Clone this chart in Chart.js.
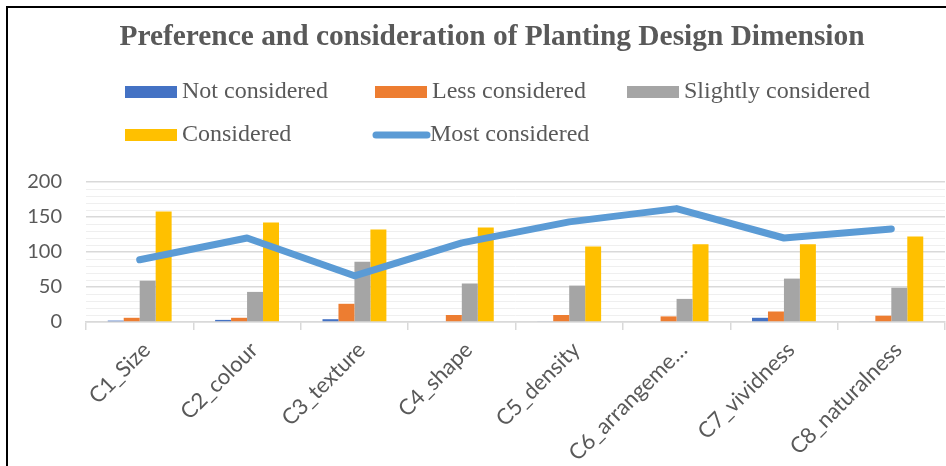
<!DOCTYPE html>
<html>
<head>
<meta charset="utf-8">
<script src="https://cdn.jsdelivr.net/npm/chart.js@4"></script>
<style>
  html, body { margin: 0; padding: 0; background: #fff; }
  #wrap { width: 946px; height: 466px; position: relative; }
</style>
</head>
<body>
<div id="wrap"><canvas id="chart" width="946" height="466"></canvas></div>
<script>
// data (n = 314 respondents per item)
const categories = ["C1_Size", "C2_colour", "C3_texture", "C4_shape", "C5_density", "C6_arrangeme\u2026", "C7_vividness", "C8_naturalness"];
const notConsidered = [2, 3, 4, 1, 1, 0, 6, 1];
const lessConsidered = [6, 6, 26, 10, 10, 8, 15, 9];
const slightlyConsidered = [59, 43, 86, 55, 52, 33, 62, 49];
const considered = [158, 142, 132, 135, 108, 111, 111, 122];
const mostConsidered = [89, 120, 66, 113, 143, 162, 120, 133];
const yTicks = [0, 50, 100, 150, 200];

const titleText = "Preference and consideration of Planting Design Dimension";
const textColor = "#595959";

// legend drawn in a grid like the office chart
const legendSlots = [
  { ds: 1, x: 125, y: 92 },
  { ds: 2, x: 375, y: 92 },
  { ds: 3, x: 627, y: 92 },
  { ds: 4, x: 125, y: 135 },
  { ds: 0, x: 373, y: 135 }
];

const decor = {
  id: "decor",
  afterDraw(chart) {
    const ctx = chart.ctx;
    ctx.save();
    // frame
    ctx.fillStyle = "#000";
    ctx.fillRect(6, 6, 940, 2);
    ctx.fillRect(6, 6, 2, 460);
    // title
    ctx.fillStyle = textColor;
    ctx.font = "bold 29.4px 'Liberation Serif'";
    ctx.textAlign = "center";
    ctx.textBaseline = "alphabetic";
    ctx.fillText(titleText, 492, 45);
    // legend
    ctx.font = "24px 'Liberation Serif'";
    ctx.textAlign = "left";
    ctx.textBaseline = "middle";
    legendSlots.forEach(s => {
      const d = chart.data.datasets[s.ds];
      if (d.type === "line") {
        ctx.strokeStyle = d.borderColor;
        ctx.lineWidth = 7;
        ctx.lineCap = "round";
        ctx.beginPath();
        ctx.moveTo(s.x + 3, s.y);
        ctx.lineTo(s.x + 54, s.y);
        ctx.stroke();
      } else {
        ctx.fillStyle = d.backgroundColor;
        ctx.fillRect(s.x, s.y - 6, 52, 12);
      }
      ctx.fillStyle = textColor;
      ctx.fillText(d.label, s.x + 57, s.y);
    });
    ctx.restore();
  }
};

const barOpts = { categoryPercentage: 0.595, barPercentage: 1.0, order: 1 };

new Chart(document.getElementById("chart"), {
  type: "bar",
  data: {
    labels: categories,
    datasets: [
      {
        type: "line",
        label: "Most considered",
        data: mostConsidered,
        borderColor: "#5b9bd5",
        backgroundColor: "#5b9bd5",
        borderWidth: 7,
        borderCapStyle: "round",
        borderJoinStyle: "round",
        pointRadius: 0,
        tension: 0,
        order: 0
      },
      Object.assign({ label: "Not considered", data: notConsidered, backgroundColor: "#4472c4" }, barOpts),
      Object.assign({ label: "Less considered", data: lessConsidered, backgroundColor: "#ed7d31" }, barOpts),
      Object.assign({ label: "Slightly considered", data: slightlyConsidered, backgroundColor: "#a5a5a5" }, barOpts),
      Object.assign({ label: "Considered", data: considered, backgroundColor: "#ffc000" }, barOpts)
    ]
  },
  options: {
    responsive: false,
    animation: false,
    layout: { padding: { top: 182, right: 1, left: 0, bottom: 0 } },
    plugins: {
      legend: { display: false },
      title: { display: false },
      tooltip: { enabled: false }
    },
    scales: {
      x: {
        grid: { drawOnChartArea: false, offset: true, tickLength: 8, color: "#d9d9d9", lineWidth: 1.5 },
        border: { color: "#d9d9d9", width: 1.5 },
        ticks: {
          color: textColor,
          font: { family: "Lato", size: 22 },
          minRotation: 45,
          maxRotation: 45,
          autoSkip: false,
          padding: 7,
          labelOffset: 7
        },
        afterFit(scale) { scale.height = 144; }
      },
      y: {
        min: 0,
        max: 200,
        border: { display: false },
        grid: {
          drawTicks: false,
          color: c => (yTicks.includes(c.tick.value) ? "#d9d9d9" : "#efefef"),
          lineWidth: c => (yTicks.includes(c.tick.value) ? 1.5 : 1)
        },
        ticks: {
          stepSize: 10,
          maxTicksLimit: 25,
          autoSkip: false,
          color: textColor,
          font: { family: "Lato", size: 20 },
          padding: 24,
          callback: v => (yTicks.includes(v) ? v : "")
        },
        afterFit(scale) { scale.width = 86; }
      }
    }
  },
  plugins: [decor]
});
</script>
</body>
</html>
